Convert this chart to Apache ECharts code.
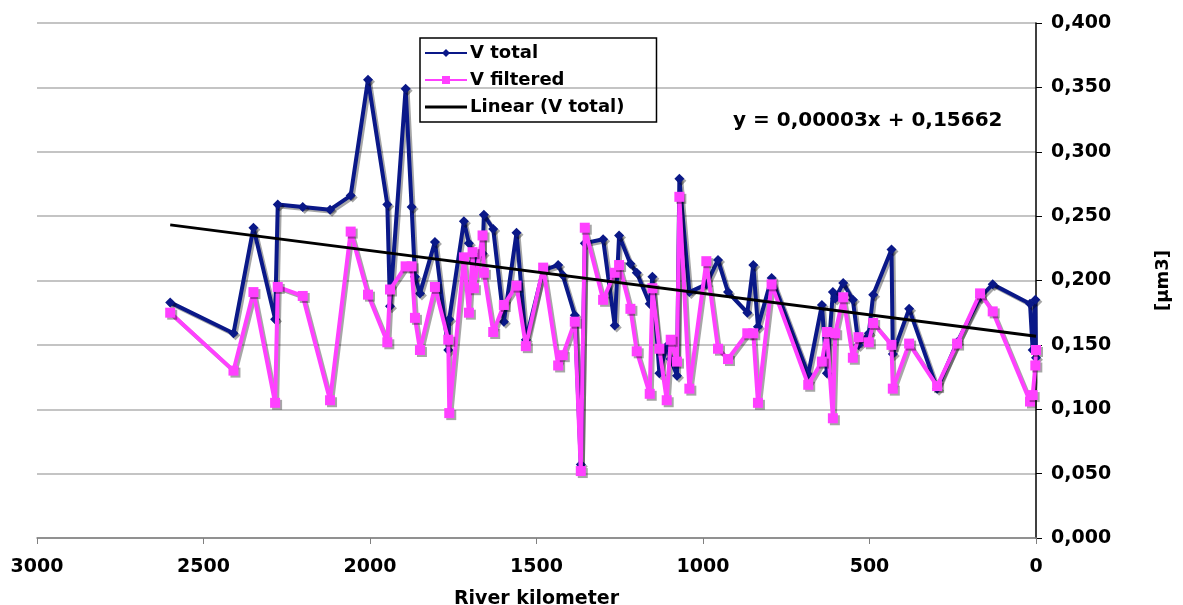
<!DOCTYPE html>
<html>
<head>
<meta charset="utf-8">
<script src="https://cdn.jsdelivr.net/npm/echarts@6/dist/echarts.min.js"></script>
<style>
  html, body { margin: 0; padding: 0; background: #fff; }
  #chart { width: 1183px; height: 605px; }
</style>
</head>
<body>
<div id="chart"></div>
<script>
// river kilometer of each sample
var km = [2600, 2410, 2350, 2285, 2277, 2202, 2120, 2058, 2006, 1948, 1940, 1893, 1875, 1865, 1850,
  1805, 1765, 1762, 1718, 1703, 1692, 1688, 1662, 1658, 1630, 1598, 1560, 1532, 1480, 1435, 1421,
  1385, 1367, 1355, 1300, 1265, 1252, 1218, 1199, 1160, 1152, 1131, 1109, 1097, 1078, 1071, 1041,
  990, 955, 925, 867, 849, 835, 794, 684, 643, 628, 610, 603, 579, 550, 533, 502, 489, 434, 430,
  381, 297, 237, 168, 130, 18, 10, 2, 0];

var vTotal = [0.183, 0.159, 0.241, 0.170, 0.259, 0.257, 0.255, 0.266, 0.356, 0.259, 0.180, 0.349, 0.257, 0.203, 0.190,
  0.230, 0.146, 0.170, 0.246, 0.229, 0.221, 0.215, 0.221, 0.251, 0.240, 0.168, 0.237, 0.154, 0.208, 0.212, 0.204,
  0.173, 0.057, 0.229, 0.232, 0.165, 0.235, 0.213, 0.206, 0.182, 0.203, 0.128, 0.149, 0.139, 0.126, 0.279, 0.191,
  0.197, 0.216, 0.191, 0.175, 0.212, 0.164, 0.202, 0.127, 0.181, 0.128, 0.191, 0.186, 0.198, 0.185, 0.150, 0.159, 0.189, 0.224, 0.143,
  0.178, 0.116, 0.152, 0.187, 0.197, 0.182, 0.146, 0.185, 0.140];

var vFiltered = [0.175, 0.130, 0.191, 0.105, 0.195, 0.188, 0.107, 0.238, 0.189, 0.152, 0.193, 0.211, 0.211, 0.171, 0.146,
  0.195, 0.154, 0.097, 0.218, 0.175, 0.222, 0.194, 0.235, 0.206, 0.160, 0.181, 0.196, 0.149, 0.210, 0.134, 0.142,
  0.168, 0.052, 0.241, 0.185, 0.206, 0.212, 0.178, 0.145, 0.112, 0.194, 0.147, 0.107, 0.154, 0.137, 0.265, 0.116,
  0.215, 0.147, 0.139, 0.159, 0.159, 0.105, 0.197, 0.119, 0.137, 0.160, 0.093, 0.159, 0.187, 0.140, 0.156, 0.152, 0.167, 0.150, 0.116,
  0.151, 0.118, 0.151, 0.190, 0.176, 0.106, 0.111, 0.134, 0.146];

// trendline of V total
var trendSlope = 0.0000333;
var trendIntercept = 0.15662;
var trendKm = [2600, 0];

var chart = echarts.init(document.getElementById('chart'));

function pairs(xs, ys) {
  return xs.map(function (x, i) { return [x, ys[i]]; });
}

var fontFam = '"DejaVu Sans", Verdana, sans-serif';
var shadow = { shadowColor: 'rgba(0,0,0,0.35)', shadowOffsetX: 2, shadowOffsetY: 2, shadowBlur: 0 };
var blue = '#0a1888';
var pink = '#ff40ff';

var option = {
  animation: false,
  backgroundColor: '#fff',
  textStyle: { fontFamily: fontFam },
  grid: { left: 37, right: 147, top: 23, bottom: 67, containLabel: false, outerBoundsMode: 'none' },
  legend: {
    orient: 'vertical',
    left: 420,
    top: 38,
    borderColor: '#000',
    borderWidth: 1.5,
    padding: [6, 32, 6, 4],
    itemGap: 9,
    itemWidth: 42,
    itemHeight: 10,
    textStyle: { fontSize: 18, fontWeight: 'bold', color: '#000', fontFamily: fontFam, padding: [0, 0, 0, -2] },
    data: [
      'V total',
      'V filtered',
      { name: 'Linear (V total)', icon: 'path://M0,0 L0.01,0 M0,10 L0.01,10 M0,3.5 L42,3.5 L42,6.5 L0,6.5 Z' }
    ]
  },
  xAxis: {
    type: 'value',
    inverse: true,
    min: 0,
    max: 3000,
    interval: 500,
    name: 'River kilometer',
    nameLocation: 'middle',
    nameGap: 52,
    nameTextStyle: { fontSize: 19, fontWeight: 'bold', color: '#000', fontFamily: fontFam },
    axisLine: { onZero: false, lineStyle: { color: '#808080', width: 1.5 } },
    axisTick: { show: true, inside: false, length: 6, lineStyle: { color: '#808080' } },
    axisLabel: {
      fontSize: 19, fontWeight: 'bold', color: '#000', margin: 20, fontFamily: fontFam,
      formatter: function (v) { return String(v); }
    },
    splitLine: { show: false }
  },
  yAxis: {
    type: 'value',
    position: 'right',
    min: 0,
    max: 0.4,
    interval: 0.05,
    name: '[µm3]',
    nameLocation: 'middle',
    nameRotate: 90,
    nameGap: 118,
    nameTextStyle: { fontSize: 18, fontWeight: 'bold', color: '#000', fontFamily: fontFam },
    axisLine: { show: true, lineStyle: { color: '#000', width: 1.5 } },
    axisTick: { show: true, inside: false, length: 6, lineStyle: { color: '#000' } },
    axisLabel: {
      fontSize: 19, fontWeight: 'bold', color: '#000', margin: 15, fontFamily: fontFam,
      formatter: function (v) { return v.toFixed(3).replace('.', ','); }
    },
    splitLine: { show: true, lineStyle: { color: '#b0b0b0', width: 1.5 } }
  },
  graphic: [{
    type: 'text',
    left: 733,
    top: 111,
    style: { text: 'y = 0,00003x + 0,15662', font: 'bold 20px ' + fontFam, fill: '#000' }
  }],
  series: [
    {
      name: 'V total',
      type: 'line',
      data: pairs(km, vTotal),
      symbol: 'diamond',
      symbolSize: 10,
      color: blue,
      lineStyle: Object.assign({ width: 4, color: blue }, shadow),
      itemStyle: Object.assign({ color: blue }, shadow),
      z: 3
    },
    {
      name: 'V filtered',
      type: 'line',
      data: pairs(km, vFiltered),
      symbol: 'rect',
      symbolSize: 10,
      color: pink,
      lineStyle: Object.assign({ width: 4, color: pink }, shadow),
      itemStyle: Object.assign({ color: pink }, shadow),
      z: 4
    },
    {
      name: 'Linear (V total)',
      type: 'line',
      data: trendKm.map(function (x) { return [x, trendIntercept + trendSlope * x]; }),
      symbol: 'none',
      color: '#000',
      lineStyle: { width: 3, color: '#000' },
      z: 5
    }
  ]
};

chart.setOption(option);
</script>
</body>
</html>
